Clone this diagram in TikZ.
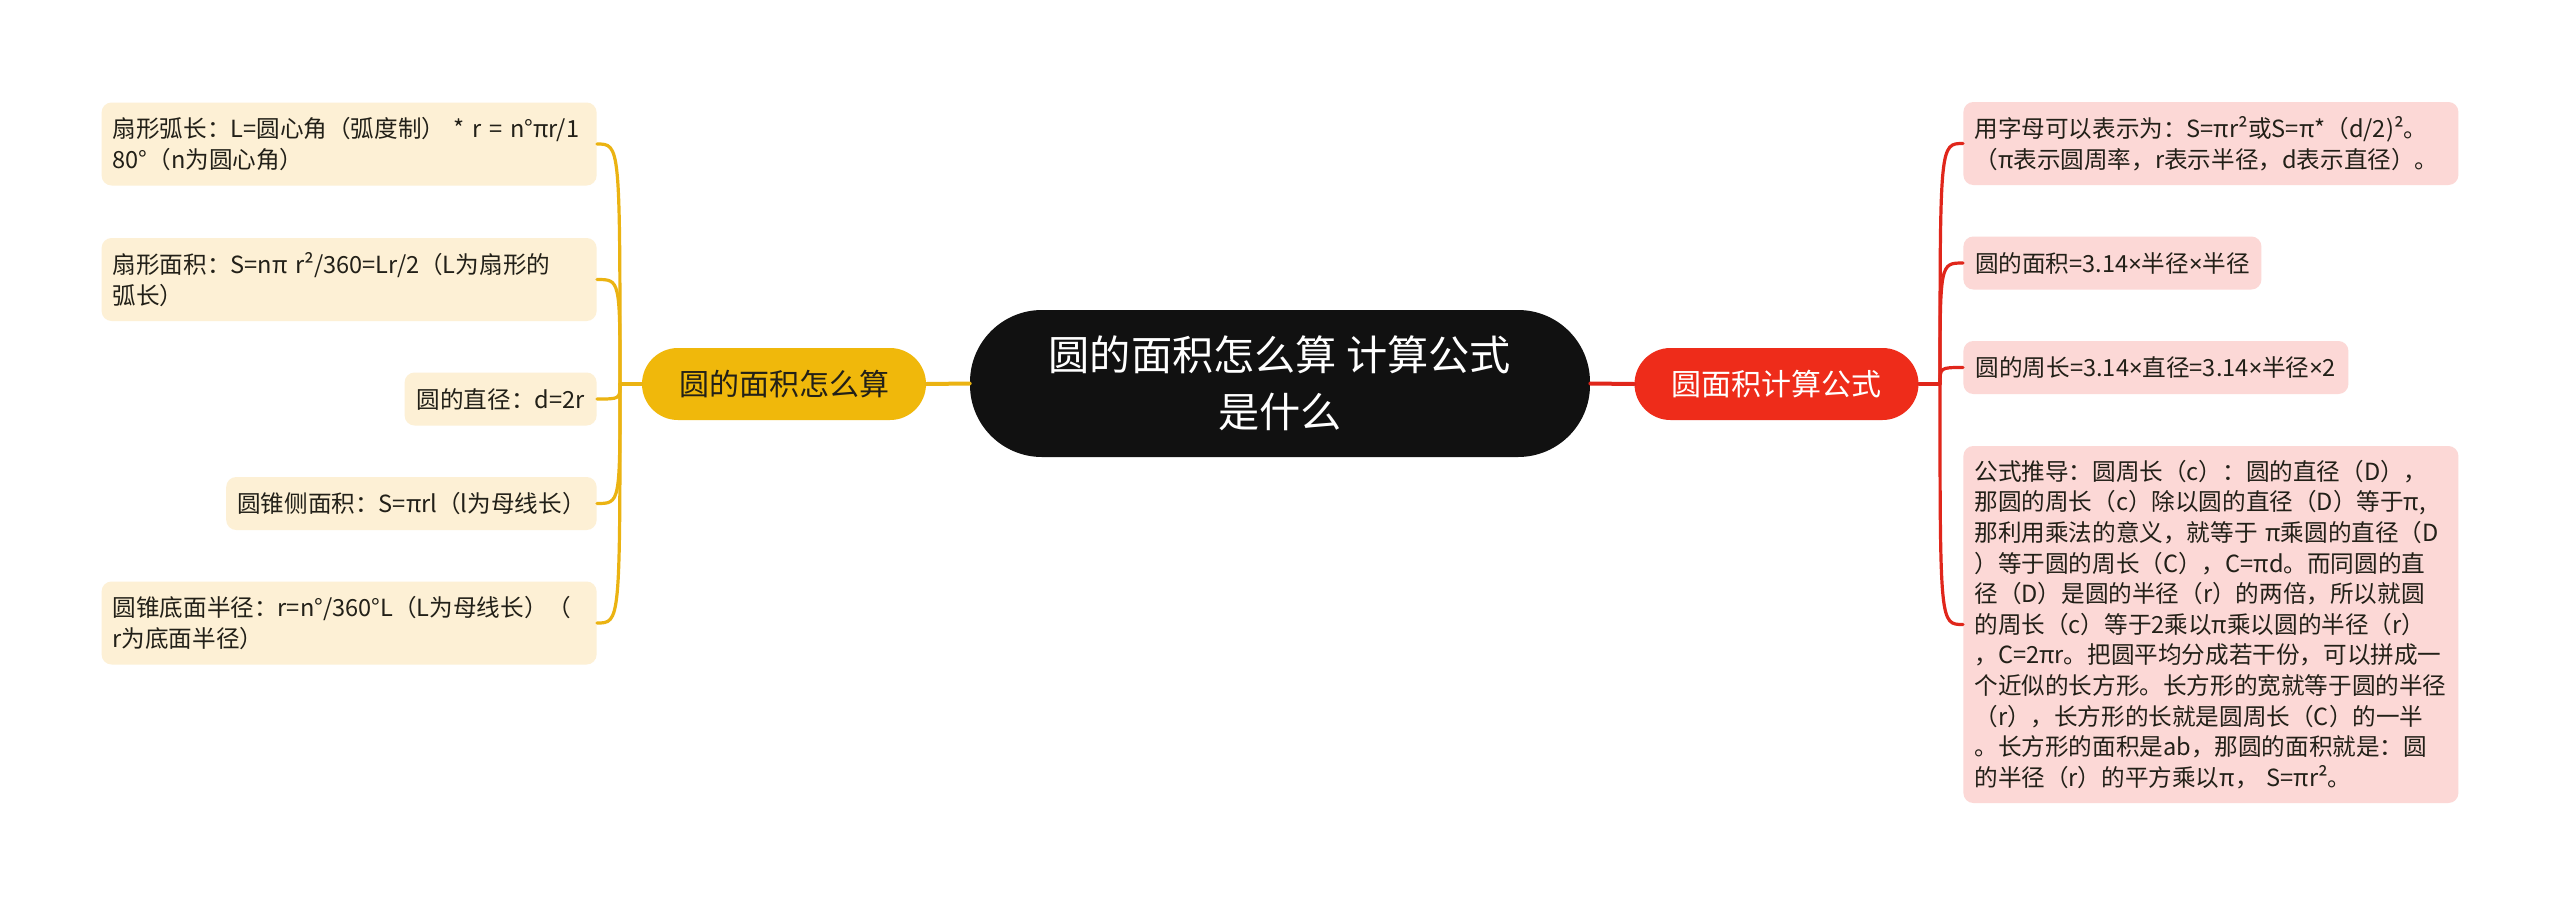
\documentclass[tikz,border=0pt]{standalone}
\usepackage{fontspec}
\newfontfamily\cjk{Noto Sans CJK SC}
\newfontfamily\latin{Noto Sans}
\usepackage{tikz}

\definecolor{rootbg}{HTML}{111111}
\definecolor{goldbg}{HTML}{F0B80B}
\definecolor{redbg}{HTML}{EE2C1A}
\definecolor{creambg}{HTML}{FDF0D5}
\definecolor{pinkbg}{HTML}{FCD8D6}
\definecolor{goldline}{HTML}{EBB312}
\definecolor{redline}{HTML}{E0261B}
\definecolor{darktext}{HTML}{222018}

\newcommand{\tms}{{\latin ×}}

\tikzset{
    every node/.style={
        font=\cjk
    },
    every path/.style={
        line cap=round
    }
}
\tikzstyle{leaf}=[rounded corners=5pt, align=left, inner xsep=5.5pt, inner ysep=2pt, text=darktext, font=\cjk\fontsize{11.8pt}{15.3pt}\selectfont]
\tikzstyle{leafL}=[leaf, fill=creambg, anchor=east]
\tikzstyle{leafR}=[leaf, fill=pinkbg, anchor=west]
\tikzstyle{wide}=[text width=236.5pt]
\tikzstyle{branch}=[rounded corners=18pt, minimum width=142pt, minimum height=36pt, font=\cjk\fontsize{15pt}{18pt}\selectfont]

\begin{document}
\begin{tikzpicture}[x=0.5pt,y=-0.5pt]
\fill[white] (0,0) rectangle (2560,905);
\useasboundingbox (0,0) rectangle (2560,905);

% root
\node[fill=rootbg, text=white, rounded corners=36pt, minimum width=310pt, minimum height=73.5pt, align=center, font=\cjk\fontsize{20.6pt}{28.5pt}\selectfont] (C) at (1280,383.5) {圆的面积怎么算 计算公式\\是什么};

% main branches
\node[branch, fill=goldbg, text=darktext] (LM) at (784,384) {圆的面积怎么算};
\node[branch, fill=redbg, text=white] (RM) at (1776.5,384) {圆面积计算公式};

\coordinate (JL) at (620,384);
\coordinate (JR) at (1940,384);

% left leaves
\node[leafL, wide, minimum height=41.5pt] (L1) at (597,144) {扇形弧长：L=圆心角（弧度制）~*~r~=~n°πr/1\\80°（n为圆心角）};
\node[leafL, wide, minimum height=41.5pt] (L2) at (597,279.5) {扇形面积：S=nπ~r²/360=Lr/2（L为扇形的\\弧长）};
\node[leafL, minimum width=96pt, minimum height=26.5pt] (L3) at (597,399) {圆的直径：d=2r};
\node[leafL, minimum width=185pt, minimum height=26.5pt] (L4) at (597,503.5) {圆锥侧面积：S=πrl（l为母线长）};
\node[leafL, wide, minimum height=41.5pt] (L5) at (597,623) {圆锥底面半径：r=n°/360°L（L为母线长）（\\r为底面半径）};

% right leaves
\node[leafR, wide, minimum height=41.5pt] (R1) at (1963,143.5) {用字母可以表示为：S=πr²或S=π*（d/2)²。\\（π表示圆周率，r表示半径，d表示直径）。};
\node[leafR, minimum width=149pt, minimum height=26.5pt] (R2) at (1963,263) {圆的面积=3.14\tms 半径\tms 半径};
\node[leafR, minimum width=192.5pt, minimum height=26.5pt] (R3) at (1963,367.5) {圆的周长=3.14\tms 直径=3.14\tms 半径\tms 2};
\node[leafR, wide, minimum height=178.5pt] (R4) at (1963,624.5) {公式推导：圆周长（c）：圆的直径（D），\\那圆的周长（c）除以圆的直径（D）等于π,\\那利用乘法的意义，就等于~π乘圆的直径（D\\）等于圆的周长（C），C=πd。而同圆的直\\径（D）是圆的半径（r）的两倍，所以就圆\\的周长（c）等于2乘以π乘以圆的半径（r）\\，C=2πr。把圆平均分成若干份，可以拼成一\\个近似的长方形。长方形的宽就等于圆的半径\\（r），长方形的长就是圆周长（C）的一半\\。长方形的面积是ab，那圆的面积就是：圆\\的半径（r）的平方乘以π，~S=πr²。};

% connectors
\draw[goldline, line width=2pt] (C.west) -- (LM.east);
\draw[redline, line width=2pt] (C.east) -- (RM.west);
\draw[goldline, line width=1.6pt] (LM.west) -- (JL);
\draw[redline, line width=1.6pt] (RM.east) -- (JR);
\foreach \n in {L1,L2,L3,L4,L5}
    \draw[goldline, line width=1.6pt] (JL) .. controls (JL |- \n.east) .. (\n.east);
\foreach \n in {R1,R2,R3,R4}
    \draw[redline, line width=1.6pt] (JR) .. controls (JR |- \n.west) .. (\n.west);

\end{tikzpicture}
\end{document}
